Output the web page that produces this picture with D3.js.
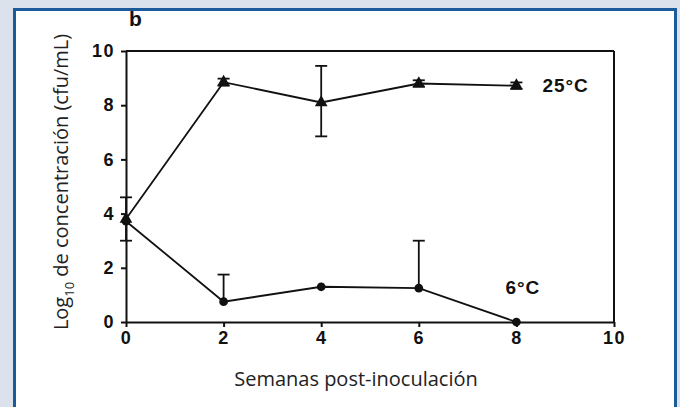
<!DOCTYPE html>
<html>
<head>
<meta charset="utf-8">
<script src="https://cdn.jsdelivr.net/npm/d3@7"></script>
<style>
  body { margin: 0; background: #dbe2eb; }
  svg { display: block; }
</style>
</head>
<body>
<div id="chart"></div>
<script>
var weeks = [0, 2, 4, 6, 8];
var warm = [3.8, 8.85, 8.1, 8.8, 8.72];          // 25°C
var warmLow = [3.8, 8.72, 6.85, 8.68, 8.6];
var warmHigh = [3.8, 8.98, 9.45, 8.92, 8.84];
var cold = [3.72, 0.75, 1.3, 1.25, 0];          // 6°C
var coldLow = [3.0, 0.75, 1.3, 1.25, 0];
var coldHigh = [4.6, 1.75, 1.3, 3.0, 0];
var tickVals = [0, 2, 4, 6, 8, 10];

var W = 680, H = 407;
var margin = {top: 51, right: 66, bottom: 85, left: 126};
var width = W - margin.left - margin.right,
    height = H - margin.top - margin.bottom;

var svg = d3.select('#chart').append('svg')
  .attr('width', W)
  .attr('height', H);

// blue framed panel
svg.append('rect')
  .attr('x', 14.5).attr('y', 9.5)
  .attr('width', 661).attr('height', 410)
  .style('fill', 'white')
  .style('stroke', '#1c5b99')
  .style('stroke-width', 3);

var g = svg.append('g')
  .attr('transform', 'translate(' + margin.left + ',' + margin.top + ')');

var x = d3.scaleLinear().domain([0, 10]).range([0, width]);
var y = d3.scaleLinear().domain([0, 10]).range([height, 0]);

var boldFont = 'Liberation Sans, Arial, sans-serif';

var yAxis = g.append('g')
  .call(d3.axisLeft(y).tickValues(tickVals).tickSize(5).tickSizeOuter(0).tickPadding(6));
var xAxis = g.append('g')
  .attr('transform', 'translate(0,' + height + ')')
  .call(d3.axisBottom(x).tickValues(tickVals).tickSize(5).tickSizeOuter(0).tickPadding(4));

[xAxis, yAxis].forEach(function(a) {
  a.selectAll('path, line').style('stroke', '#111').style('stroke-width', 2);
  a.selectAll('text').style('fill', '#111')
    .style('font-family', boldFont)
    .style('font-weight', 'bold')
    .style('font-size', '18px')
    .style('letter-spacing', '1.5px');
});

// frame top and right
g.append('line').attr('x1', 0).attr('x2', width).attr('y1', 0).attr('y2', 0)
  .style('stroke', '#111').style('stroke-width', 2);
g.append('line').attr('x1', width).attr('x2', width).attr('y1', 0).attr('y2', height)
  .style('stroke', '#111').style('stroke-width', 2);

function drawSeries(vals, lo, hi, shape) {
  var pts = weeks.map(function(w, i) { return {w: w, v: vals[i], lo: lo[i], hi: hi[i]}; });
  var line = d3.line().x(function(d) { return x(d.w); }).y(function(d) { return y(d.v); });
  g.append('path').datum(pts).attr('d', line)
    .style('fill', 'none').style('stroke', '#111').style('stroke-width', 1.8);

  var eb = g.append('g').selectAll('g').data(pts.filter(function(d) { return d.hi > d.lo; }))
    .enter().append('g').style('stroke', '#111').style('stroke-width', 1.8);
  eb.append('line')
    .attr('x1', function(d) { return x(d.w); }).attr('x2', function(d) { return x(d.w); })
    .attr('y1', function(d) { return y(d.lo); }).attr('y2', function(d) { return y(d.hi); });
  eb.append('line')
    .attr('x1', function(d) { return x(d.w) - 6; }).attr('x2', function(d) { return x(d.w) + 6; })
    .attr('y1', function(d) { return y(d.hi); }).attr('y2', function(d) { return y(d.hi); });
  eb.filter(function(d) { return d.lo < d.v; }).append('line')
    .attr('x1', function(d) { return x(d.w) - 6; }).attr('x2', function(d) { return x(d.w) + 6; })
    .attr('y1', function(d) { return y(d.lo); }).attr('y2', function(d) { return y(d.lo); });

  g.append('g').selectAll('path').data(pts).enter().append('path')
    .attr('d', d3.symbol().type(shape).size(shape === d3.symbolCircle ? 60 : 70))
    .attr('transform', function(d) { return 'translate(' + x(d.w) + ',' + y(d.v) + ')'; })
    .style('fill', '#111');
}

drawSeries(cold, coldLow, coldHigh, d3.symbolCircle);
drawSeries(warm, warmLow, warmHigh, d3.symbolTriangle);

// series labels
g.append('text').attr('x', x(8) + 26).attr('y', y(warm[4]) + 6)
  .text('25°C')
  .style('font-family', boldFont).style('font-weight', 'bold')
  .style('font-size', '19px').style('letter-spacing', '1px').style('fill', '#111');
g.append('text').attr('x', x(8) - 11).attr('y', y(1.05))
  .text('6°C')
  .style('font-family', boldFont).style('font-weight', 'bold')
  .style('font-size', '19px').style('letter-spacing', '1px').style('fill', '#111');

// panel letter
svg.append('text').attr('x', 129).attr('y', 26).text('b')
  .style('font-family', boldFont).style('font-weight', 'bold')
  .style('font-size', '21px').style('fill', '#111');

// axis titles
svg.append('text')
  .attr('x', 356).attr('y', 386)
  .attr('text-anchor', 'middle')
  .text('Semanas post-inoculación')
  .style('font-family', 'Open Sans, sans-serif').style('font-size', '20px').style('fill', '#222');

var yt = svg.append('text')
  .attr('transform', 'translate(68,182) rotate(-90)')
  .attr('text-anchor', 'middle')
  .style('font-family', 'Open Sans, sans-serif').style('font-size', '20px').style('fill', '#222');
yt.append('tspan').text('Log');
yt.append('tspan').text('10').attr('dy', 6).style('font-size', '13px');
yt.append('tspan').text('  de concentración (cfu/mL)').attr('dy', -6);
</script>
</body>
</html>
